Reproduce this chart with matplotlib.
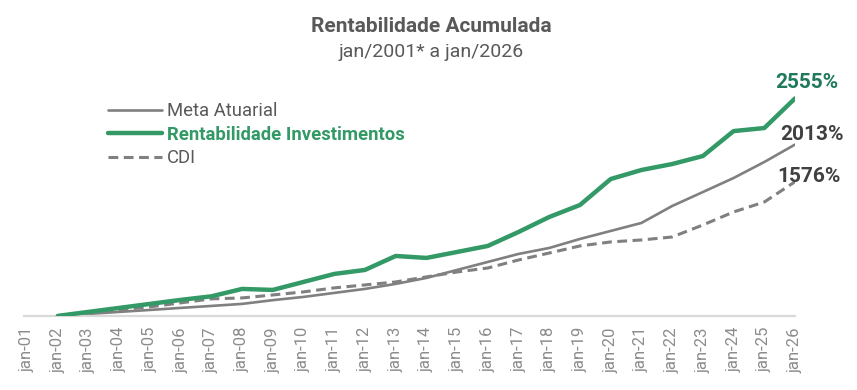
import matplotlib
matplotlib.use("Agg")
import matplotlib.pyplot as plt

plt.rcParams['font.family'] = ['Roboto', 'DejaVu Sans']

# categorias do eixo x
labels = ["jan-%02d" % a for a in range(1, 27)]

# rentabilidade acumulada (%), de jan-02 a jan-26
meta = [0, 23, 47, 70, 94, 117, 141, 185, 223, 270, 317, 376, 446, 540,
        634, 728, 798, 904, 998, 1092, 1291, 1455, 1620, 1808, 2013]
invest = [0, 47, 94, 141, 188, 230, 317, 305, 399, 493, 540, 704, 681, 751,
          822, 986, 1162, 1303, 1608, 1714, 1784, 1878, 2171, 2207, 2555]
cdi = [0, 35, 70, 106, 153, 200, 211, 246, 282, 329, 364, 399, 458, 516,
       563, 657, 739, 822, 869, 892, 927, 1068, 1221, 1338, 1576]

green = "#339966"
gray = "#808080"

fig = plt.figure(figsize=(8.57, 3.9), dpi=100)
ax = fig.add_axes([0.028, 0.19, 0.8997, 0.633])

x = list(range(1, 26))
ax.plot(x, meta, color=gray, lw=1.9, solid_capstyle='round', label="Meta Atuarial", zorder=2)
ax.plot(x, invest, color=green, lw=3.2, solid_capstyle='round', solid_joinstyle='round',
        label="Rentabilidade Investimentos", zorder=3)
ax.plot(x, cdi, color=gray, lw=2.2, ls=(0, (3.2, 1.8)), label="CDI", zorder=2)

# rótulos finais
ax.annotate("%d%%" % invest[-1], (x[-1], invest[-1]), xytext=(12, 10), textcoords='offset pixels',
            ha='center', va='baseline', color="#1f7a5c", fontsize=15, fontweight='bold')
ax.annotate("%d%%" % meta[-1], (x[-1], meta[-1]), xytext=(17, 5), textcoords='offset pixels',
            ha='center', va='baseline', color="#404040", fontsize=15, fontweight='bold')
ax.annotate("%d%%" % cdi[-1], (x[-1], cdi[-1]), xytext=(14, 0), textcoords='offset pixels',
            ha='center', va='baseline', color="#404040", fontsize=15, fontweight='bold')

ax.set_xlim(-0.1, 25)
ax.set_ylim(0, 2900)
ax.set_xticks(range(len(labels)))
ax.set_xticklabels(labels, rotation=90, color="#8c8c8c", fontsize=12)
ax.tick_params(axis='x', length=0, pad=8)
ax.set_yticks([])
for s in ['top', 'right', 'left']:
    ax.spines[s].set_visible(False)
ax.spines['bottom'].set_color("#d9d9d9")
ax.spines['bottom'].set_linewidth(1.6)

leg = ax.legend(loc='upper left', bbox_to_anchor=(108 / 857, 1 - 102 / 390),
                bbox_transform=fig.transFigure, frameon=False, fontsize=13.3,
                handlelength=2.9, handletextpad=0.3, labelspacing=0.3,
                borderpad=0, borderaxespad=0)
for t in leg.get_texts():
    t.set_color("#595959")
leg.get_texts()[1].set_color(green)
leg.get_texts()[1].set_fontweight('bold')

fig.text(0.503, 1 - 32 / 390, "Rentabilidade Acumulada", ha='center', va='baseline',
         fontsize=15, fontweight='bold', color="#595959")
fig.text(0.503, 1 - 57 / 390, "jan/2001* a jan/2026", ha='center', va='baseline',
         fontsize=14, color="#595959")

fig.savefig("out.png", dpi=100)
